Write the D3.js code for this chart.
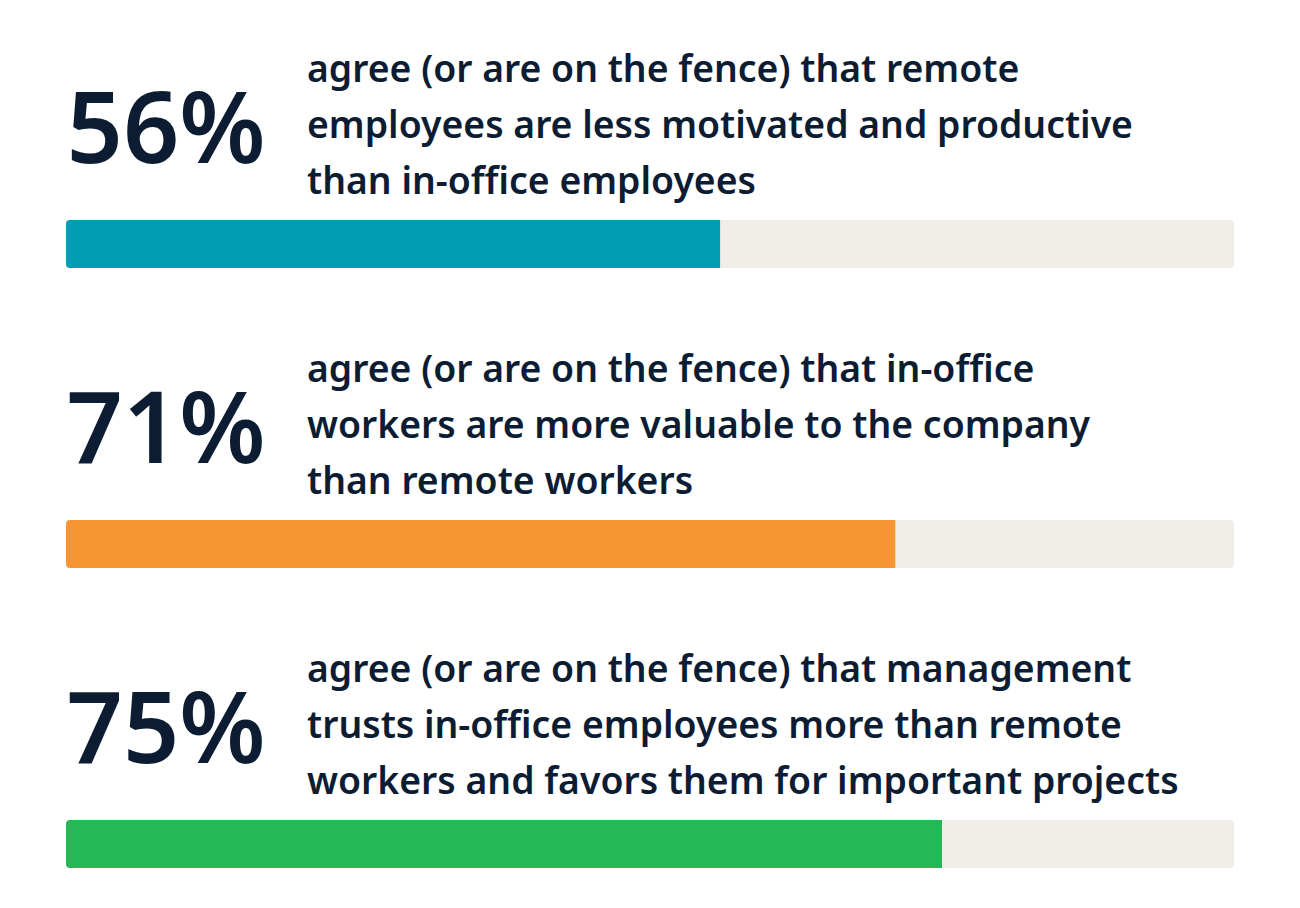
<!DOCTYPE html>
<html><head><meta charset="utf-8">
<script src="https://cdn.jsdelivr.net/npm/d3@7/dist/d3.min.js"></script>
<style>html,body{margin:0;padding:0;background:#fff;}</style>
</head><body>
<svg id="c" width="1300" height="908"></svg>
<script>
const values = [56, 71, 75];
const labels = ["56%", "71%", "75%"];
const lines = [
  ["agree (or are on the fence) that remote", "employees are less motivated and productive", "than in-office employees"],
  ["agree (or are on the fence) that in-office", "workers are more valuable to the company", "than remote workers"],
  ["agree (or are on the fence) that management", "trusts in-office employees more than remote", "workers and favors them for important projects"]
];
const colors = ["#009db5", "#f79433", "#27b856"];

const svg = d3.select("#c");
const x = d3.scaleLinear().domain([0, 100]).range([66, 1234]);
const y = d3.scaleBand().domain(d3.range(values.length)).range([0, 900]);
const ink = "#0c1d33";
const bodyFont = "'Noto Sans', sans-serif";

const probe = svg.append("text").attr("font-family", bodyFont).attr("font-weight", 600).attr("font-size", 34)
  .text("employees are less motivated and productive");
const w = probe.node().getComputedTextLength();
probe.remove();
const bodySize = 34 * 826 / w;

const probe2 = svg.append("text").attr("font-family", bodyFont).attr("font-weight", 600).attr("font-size", 100)
  .text("56%");
const w2 = probe2.node().getComputedTextLength();
probe2.remove();
const numSize = Math.min(104, 100 * 199 / w2);

const defs = svg.append("defs");
const g = svg.selectAll("g.row").data(values).join("g").attr("class", "row")
  .attr("transform", (d, i) => `translate(0,${y(i)})`);

g.each(function(d, i) {
  defs.append("clipPath").attr("id", "clip" + i).append("rect")
    .attr("x", x(0)).attr("y", 220).attr("width", x(100) - x(0)).attr("height", 48).attr("rx", 4);
});

g.append("rect").attr("x", x(0)).attr("y", 220).attr("width", x(100) - x(0)).attr("height", 48)
  .attr("rx", 4).attr("fill", "#f1ede8");
g.append("rect").attr("clip-path", (d, i) => `url(#clip${i})`)
  .attr("x", x(0)).attr("y", 220).attr("width", d => x(d) - x(0)).attr("height", 48)
  .attr("fill", (d, i) => colors[i]);

g.append("text").attr("x", 166).attr("y", 163).attr("text-anchor", "middle")
  .attr("font-family", bodyFont).attr("font-weight", 600).attr("font-size", numSize)
  .attr("fill", ink).text((d, i) => labels[i]);

g.each(function(d, i) {
  d3.select(this).selectAll("text.l").data(lines[i]).join("text").attr("class", "l")
    .attr("x", 307).attr("y", (t, j) => 82 + j * 56)
    .attr("font-family", bodyFont).attr("font-weight", 600).attr("font-size", bodySize)
    .attr("fill", ink).text(t => t);
});
</script>
</body></html>
